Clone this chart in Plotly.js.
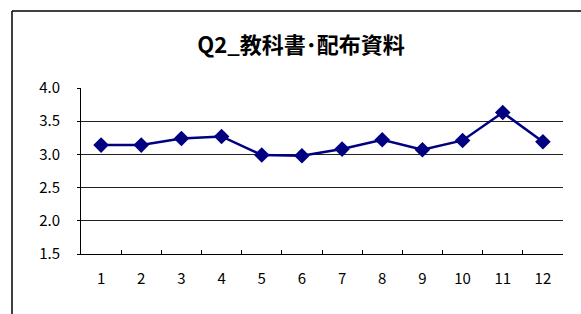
<!DOCTYPE html>
<html>
<head>
<meta charset="utf-8">
<script src="https://cdn.plot.ly/plotly-3.0.1.min.js"></script>
<style>
html,body{margin:0;padding:0;background:#fff;}
#chart{width:581px;height:314px;}
</style>
</head>
<body>
<div id="chart"></div>
<script>
const chartTitle = "Q2_教科書･配布資料";
const categories = ["1","2","3","4","5","6","7","8","9","10","11","12"];
const values = [3.14, 3.14, 3.24, 3.27, 2.99, 2.98, 3.08, 3.22, 3.07, 3.21, 3.63, 3.19];
const yTicks = [1.5, 2.0, 2.5, 3.0, 3.5, 4.0];
const yTickText = ["1.5","2.0","2.5","3.0","3.5","4.0"];

const font = '"Noto Sans CJK JP", "Liberation Sans", sans-serif';

const trace = {
  x: categories,
  y: values,
  type: 'scatter',
  mode: 'lines+markers',
  line: {color: '#000080', width: 2.5},
  marker: {symbol: 'diamond', size: 12, color: '#000080'},
  cliponaxis: false,
  hoverinfo: 'skip'
};

const L = 81, R = 18, T = 88, B = 60;
const pw = 581 - L - R, ph = 314 - T - B;
const px = v => (v - L) / pw;
const py = v => (314 - B - v) / ph;

const layout = {
  width: 581, height: 314,
  margin: {l: L, r: R, t: T, b: B, pad: 0},
  paper_bgcolor: '#fff', plot_bgcolor: '#fff',
  showlegend: false,
  font: {family: font, color: '#000', size: 15},
  title: {
    text: chartTitle,
    font: {family: font, size: 22, color: '#000', weight: 'bold'},
    x: 301/581, xanchor: 'center', xref: 'container',
    y: 1 - 45/314, yanchor: 'middle', yref: 'container'
  },
  xaxis: {
    type: 'category',
    range: [-0.5, 11.5],
    showline: true, linecolor: '#000', linewidth: 1,
    ticks: 'inside', tickson: 'boundaries', ticklen: 4, tickcolor: '#000', tickwidth: 1,
    showgrid: false, zeroline: false,
    ticklabelstandoff: 11,
    tickfont: {family: font, size: 15, color: '#000'},
    fixedrange: true
  },
  yaxis: {
    range: [1.5, 4.0],
    tickvals: yTicks, ticktext: yTickText,
    showline: true, linecolor: '#000', linewidth: 1,
    ticks: 'outside', ticklen: 3, tickcolor: '#000', tickwidth: 1,
    showgrid: true, gridcolor: '#222', gridwidth: 1,
    zeroline: false,
    ticklabelstandoff: 14,
    tickfont: {family: font, size: 15, color: '#000'},
    fixedrange: true
  },
  shapes: [
    {type: 'line', xref: 'paper', yref: 'paper', x0: px(12), x1: px(12), y0: py(11), y1: py(330), line: {color: '#000', width: 1.5}},
    {type: 'line', xref: 'paper', yref: 'paper', x0: px(12), x1: px(600), y0: py(11), y1: py(11), line: {color: '#000', width: 1.5}}
  ]
};

Plotly.newPlot('chart', [trace], layout, {displayModeBar: false, staticPlot: true});
</script>
</body>
</html>
